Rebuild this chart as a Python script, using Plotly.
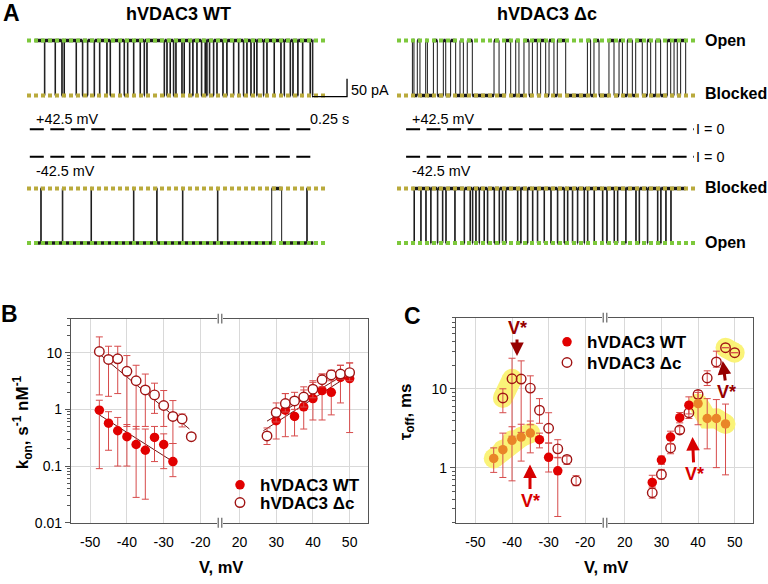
import math
import plotly.graph_objects as go

W, H = 768, 584
FONT = "Liberation Sans, Arial, sans-serif"

# ---------------- Panel A: single-channel traces (time s, current pA) ----------------
OPEN_POS, BLOCK_POS = 250, 95
OPEN_NEG, BLOCK_NEG = -243, -89
SCALE_PA, SCALE_S = 50, 0.25
BRIEF = 0.004
LEVEL_SPAN = [0.0, 2.15]

wt_pos_span = [0.057, 2.045]
wt_pos_onsets = [0.124, 0.200, 0.248, 0.264, 0.350, 0.395, 0.431, 0.479, 0.517, 0.569,
                 0.593, 0.660, 0.693, 0.717, 0.760, 0.807, 0.836, 0.855, 0.979, 0.998,
                 1.021, 1.045, 1.062, 1.105, 1.121, 1.160, 1.183, 1.212, 1.245, 1.271,
                 1.283, 1.302, 1.331, 1.355, 1.398, 1.426, 1.474, 1.510, 1.545, 1.569,
                 1.598, 1.621, 1.640, 1.688, 1.712, 1.764, 1.812, 1.836, 1.879, 1.898,
                 1.933, 1.967, 2.021, 2.038]
wt_neg_span = [0.064, 2.045]
wt_neg_onsets = [0.098, 0.252, 0.457, 0.760, 0.926, 1.110, 1.360, 1.998]
wt_neg_long_block = [(1.748, 1.819)]

dc_pos_span = [0.110, 2.062]
dc_pos_open = [(0.110, 0.121), (0.145, 0.164), (0.205, 0.217), (0.260, 0.288), (0.331, 0.348),
               (0.383, 0.419), (0.450, 0.474), (0.502, 0.538), (0.693, 0.729), (0.776, 0.812),
               (0.848, 0.871), (0.907, 0.943), (0.967, 1.002), (1.026, 1.062), (1.086, 1.121),
               (1.145, 1.205), (1.360, 1.383), (1.407, 1.443), (1.514, 1.550), (1.586, 1.610),
               (1.645, 1.681), (1.705, 1.752), (1.788, 1.812), (1.848, 1.883), (1.931, 1.955),
               (1.979, 2.002), (2.026, 2.062)]
dc_neg_span = [0.110, 2.062]
dc_neg_onsets = [0.121, 0.169, 0.205, 0.240, 0.288, 0.324, 0.348, 0.412, 0.479, 0.521,
                 0.538, 0.562, 0.586, 0.621, 0.645, 0.693, 0.729, 0.752, 0.776, 0.860,
                 0.883, 0.931, 0.967, 1.002, 1.050, 1.098, 1.145, 1.193, 1.217, 1.252,
                 1.288, 1.336, 1.360, 1.407, 1.467, 1.498, 1.550, 1.574, 1.633, 1.705,
                 1.729, 1.788, 1.860, 1.883, 1.919, 1.955]
wt_izero_span = [0.02, 2.05]
dc_izero_span = [0.065, 2.12]

# ---------------- Panel B: kon (s^-1 nM^-1) ----------------
B_WT_V_L = [-47.5, -45, -42.5, -40, -37.5, -35, -32.5, -30, -27.5]
B_WT_L = [0.97, 0.57, 0.42, 0.33, 0.24, 0.19, 0.32, 0.24, 0.12]
B_WT_L_HI = [1.45, 0.91, 0.72, 0.54, 0.5, 0.45, 0.5, 0.37, 0.25]
B_WT_L_LO = [0.09, 0.19, 0.1, 0.1, 0.028, 0.026, 0.12, 0.09, 0.065]
B_DC_V_L = [-47.5, -45, -42.5, -40, -37.5, -35, -32.5, -30, -27.5, -25, -22.5]
B_DC_L = [10.5, 7.6, 7.8, 4.7, 3.2, 2.2, 1.8, 1.17, 0.75, 0.68, 0.33]
B_DC_L_HI = [19, 13, 13, 8.9, 6.0, 4.2, 2.9, 2.15, 1.43, 0.83, 0.33]
B_DC_L_LO = [1.8, 1.7, 1.9, 0.5, 0.45, 0.5, 0.85, 0.5, 0.25, 0.49, 0.33]
B_WT_V_R = [30, 32.5, 35, 37.5, 40, 42.5, 45, 47.5, 50]
B_WT_R = [0.63, 0.97, 0.75, 1.11, 1.55, 2.15, 2.0, 3.66, 3.5]
B_WT_R_HI = [1.0, 1.9, 1.5, 2.2, 3.0, 4.2, 4.9, 6.0, 6.6]
B_WT_R_LO = [0.3, 0.33, 0.34, 0.45, 0.65, 0.65, 0.8, 1.3, 0.39]
B_DC_V_R = [27.5, 30, 32.5, 35, 37.5, 40, 42.5, 45, 47.5, 50]
B_DC_R = [0.34, 0.88, 1.27, 1.41, 1.65, 2.27, 3.33, 4.06, 4.2, 4.46]
B_DC_R_HI = [0.47, 1.3, 1.9, 2.0, 2.5, 3.2, 4.2, 4.9, 6.0, 6.6]
B_DC_R_LO = [0.24, 0.6, 0.9, 1.0, 1.1, 1.6, 2.5, 3.2, 3.4, 3.2]
B_FIT_DC_L = ([-47.5, -23], [9.5, 0.45])
B_FIT_WT_L = ([-47.5, -27.5], [0.8, 0.12])
B_FIT_DC_R = ([27.5, 50.5], [0.62, 4.9])
B_FIT_WT_R = ([26.5, 50], [0.42, 4.0])

# ---------------- Panel C: tau_off (ms) ----------------
C_WT_V_L = [-45, -42.5, -40, -37.5, -35, -32.5, -30, -27.5]
C_WT_L = [1.31, 1.69, 2.22, 2.44, 2.74, 2.26, 1.35, 0.91]
C_WT_L_HI = [1.78, 2.74, 3.3, 3.55, 3.9, 2.74, 2.05, 1.35]
C_WT_L_LO = [0.87, 0.75, 0.68, 1.21, 1.54, 1.78, 0.88, 0.24]
C_DC_V_L = [-42.5, -40, -37.5, -35, -32.5, -30, -27.5, -25, -22.5]
C_DC_L = [7.65, 13.4, 13.3, 10.2, 5.35, 3.16, 1.73, 1.27, 0.68]
C_DC_L_HI = [10.0, 24.4, 22.6, 14.6, 7.5, 4.97, 2.26, 1.4, 0.79]
C_DC_L_LO = [4.97, 2.5, 2.8, 3.5, 3.65, 2.05, 1.33, 1.1, 0.59]
C_WT_V_R = [27.5, 30, 32.5, 35, 37.5, 40, 42.5, 45, 47.5]
C_WT_R = [0.65, 1.25, 2.44, 4.3, 6.2, 6.5, 4.2, 4.2, 3.58]
C_WT_R_HI = [0.8, 1.4, 2.9, 5.0, 7.9, 9.0, 7.5, 7.3, 6.4]
C_WT_R_LO = [0.57, 1.1, 2.0, 3.7, 4.8, 3.5, 1.73, 1.0, 0.81]
C_DC_V_R = [27.5, 30, 32.5, 35, 37.5, 40, 42.5, 45, 47.5, 50]
C_DC_R = [0.48, 0.82, 1.78, 3.0, 4.97, 8.5, 13.7, 21.9, 33.2, 28.7]
C_DC_R_HI = [0.55, 0.95, 2.0, 3.3, 5.8, 9.5, 16.9, 30, 33.2, 28.7]
C_DC_R_LO = [0.41, 0.72, 1.5, 2.7, 4.2, 7.5, 11, 18.8, 33.2, 28.7]
# indices of highlighted (V*) groups
C_HL_WT_L = [0, 1, 2, 3, 4]
C_HL_WT_R = [5, 6, 7, 8]
C_HL_DC_L = [0, 1]
C_HL_DC_R = [8, 9]

X_TICKS_L = [-50, -40, -30, -20]
X_TICKS_R = [20, 30, 40, 50]

# ---------------- styles ----------------
RED = "rgb(225,0,0)"
DARKRED = "rgb(160,20,20)"
ORANGE = "rgb(233,133,40)"
ERRC = "rgb(215,75,75)"
FITC = "rgb(110,20,20)"
YELLOW = "rgb(250,243,120)"
GREEN = "rgb(125,200,60)"
OLIVE = "rgb(185,170,60)"
GRID = "#d9d9d9"
AXC = "#555555"


def px(x):
    return x / W


def py(y):
    return 1 - y / H


def dom_x(a, b):
    return [a / W, b / W]


def dom_y(top, bottom):
    return [1 - bottom / H, 1 - top / H]


fig = go.Figure()


def step_xy(span, intervals, base, other):
    xs, ys = [span[0]], [base]
    for s, e in intervals:
        xs += [s, s, e, e]
        ys += [base, other, other, base]
    xs.append(span[1])
    ys.append(base)
    return xs, ys


def dwell_xy(span, intervals, base, other):
    xs, ys = [], []
    prev = span[0]
    for s, e in intervals:
        xs += [prev, s, None, s, e, None]
        ys += [base, base, None, other, other, None]
        prev = e
    xs += [prev, span[1]]
    ys += [base, base]
    return xs, ys


def add_trace_panel(ax, span, intervals, base, other, open_lvl, block_lvl, izero_span):
    xa, ya = ("x" + ax, "y" + ax)
    xs, ys = step_xy(span, intervals, base, other)
    fig.add_trace(go.Scatter(x=xs, y=ys, mode="lines", xaxis=xa, yaxis=ya,
                             line=dict(color="rgb(25,25,25)", width=1), showlegend=False,
                             hoverinfo="skip"))
    dx, dy = dwell_xy(span, intervals, base, other)
    fig.add_trace(go.Scatter(x=dx, y=dy, mode="lines", xaxis=xa, yaxis=ya,
                             line=dict(color="rgb(25,25,25)", width=3.5), showlegend=False,
                             hoverinfo="skip", connectgaps=False))
    fig.add_trace(go.Scatter(x=LEVEL_SPAN, y=[open_lvl, open_lvl], mode="lines", xaxis=xa, yaxis=ya,
                             line=dict(color=GREEN, width=4, dash="4px,3px"), showlegend=False,
                             hoverinfo="skip"))
    fig.add_trace(go.Scatter(x=LEVEL_SPAN, y=[block_lvl, block_lvl], mode="lines", xaxis=xa, yaxis=ya,
                             line=dict(color=OLIVE, width=4, dash="4px,3px"), showlegend=False,
                             hoverinfo="skip"))
    fig.add_trace(go.Scatter(x=izero_span, y=[0, 0], mode="lines", xaxis=xa, yaxis=ya,
                             line=dict(color="black", width=2, dash="14px,6.5px"), showlegend=False,
                             hoverinfo="skip"))


wt_pos_int = [(t, t + BRIEF) for t in wt_pos_onsets]
wt_neg_int = sorted([(t, t + BRIEF) for t in wt_neg_onsets] + wt_neg_long_block)
dc_neg_int = [(t, t + BRIEF) for t in dc_neg_onsets]

add_trace_panel("", wt_pos_span, wt_pos_int, OPEN_POS, BLOCK_POS, OPEN_POS, BLOCK_POS, wt_izero_span)
add_trace_panel("2", wt_neg_span, wt_neg_int, OPEN_NEG, BLOCK_NEG, OPEN_NEG, BLOCK_NEG, wt_izero_span)
add_trace_panel("3", dc_pos_span, dc_pos_open, BLOCK_POS, OPEN_POS, OPEN_POS, BLOCK_POS, dc_izero_span)
add_trace_panel("4", dc_neg_span, dc_neg_int, BLOCK_NEG, OPEN_NEG, OPEN_NEG, BLOCK_NEG, dc_izero_span)

# scale bar (WT +42.5 panel)
SB_T, SB_I = 2.286, 92
fig.add_trace(go.Scatter(x=[SB_T - SCALE_S, SB_T, SB_T], y=[SB_I, SB_I, SB_I + SCALE_PA],
                         mode="lines", xaxis="x", yaxis="y", line=dict(color="black", width=1.3),
                         showlegend=False, hoverinfo="skip"))


# ---------------- scatter helpers ----------------
def sub(lst, idx):
    return [lst[i] for i in idx]


def err(vals, hi, lo):
    return dict(type="data", symmetric=False,
                array=[h - v for v, h in zip(vals, hi)],
                arrayminus=[v - l for v, l in zip(vals, lo)],
                color=ERRC, thickness=1, width=3.5)


def add_pts(xa, ya, V, vals, hi, lo, filled, fillcolor=None, color=None):
    if filled:
        marker = dict(symbol="circle", size=9.5, color=color or RED, line=dict(width=0))
    else:
        marker = dict(symbol="circle", size=9.5, color=fillcolor or "rgba(255,255,255,0)",
                      line=dict(color=DARKRED, width=1.4))
    fig.add_trace(go.Scatter(x=V, y=vals, mode="markers", xaxis=xa, yaxis=ya,
                             error_y=err(vals, hi, lo), marker=marker,
                             showlegend=False, hoverinfo="skip"))


def add_fit(xa, ya, fit):
    fig.add_trace(go.Scatter(x=fit[0], y=fit[1], mode="lines", xaxis=xa, yaxis=ya,
                             line=dict(color=FITC, width=1), showlegend=False, hoverinfo="skip"))


def add_legend_entry(xa, ya, name, legend, filled):
    if filled:
        marker = dict(size=9.5, color=RED)
    else:
        marker = dict(size=9.5, color="white", line=dict(color=DARKRED, width=1.4))
    fig.add_trace(go.Scatter(x=[None], y=[None], mode="markers", xaxis=xa, yaxis=ya,
                             marker=marker, name=name, legend=legend, showlegend=True))


# Panel B
add_fit("x5", "y5", B_FIT_DC_L)
add_fit("x5", "y5", B_FIT_WT_L)
add_fit("x6", "y6", B_FIT_DC_R)
add_fit("x6", "y6", B_FIT_WT_R)
add_pts("x5", "y5", B_DC_V_L, B_DC_L, B_DC_L_HI, B_DC_L_LO, False, fillcolor="white")
add_pts("x5", "y5", B_WT_V_L, B_WT_L, B_WT_L_HI, B_WT_L_LO, True)
add_pts("x6", "y6", B_WT_V_R, B_WT_R, B_WT_R_HI, B_WT_R_LO, True)
add_pts("x6", "y6", B_DC_V_R, B_DC_R, B_DC_R_HI, B_DC_R_LO, False, fillcolor="white")
add_legend_entry("x6", "y6", "hVDAC3 WT", "legend", True)
add_legend_entry("x6", "y6", "hVDAC3 \u0394c", "legend3", False)


# Panel C highlights
def add_hl(xa, ya, V, vals, idx):
    fig.add_trace(go.Scatter(x=sub(V, idx), y=sub(vals, idx), mode="lines+markers", xaxis=xa, yaxis=ya,
                             line=dict(color=YELLOW, width=20), marker=dict(color=YELLOW, size=20),
                             showlegend=False, hoverinfo="skip"))


add_hl("x7", "y7", C_DC_V_L, C_DC_L, C_HL_DC_L)
add_hl("x7", "y7", C_WT_V_L, C_WT_L, C_HL_WT_L)
add_hl("x8", "y8", C_WT_V_R, C_WT_R, C_HL_WT_R)
add_hl("x8", "y8", C_DC_V_R, C_DC_R, C_HL_DC_R)

wt_l_colors = [ORANGE if i in C_HL_WT_L else RED for i in range(len(C_WT_L))]
wt_r_colors = [ORANGE if i in C_HL_WT_R else RED for i in range(len(C_WT_R))]
add_pts("x7", "y7", C_DC_V_L, C_DC_L, C_DC_L_HI, C_DC_L_LO, False)
add_pts("x7", "y7", C_WT_V_L, C_WT_L, C_WT_L_HI, C_WT_L_LO, True, color=wt_l_colors)
add_pts("x8", "y8", C_DC_V_R, C_DC_R, C_DC_R_HI, C_DC_R_LO, False)
add_pts("x8", "y8", C_WT_V_R, C_WT_R, C_WT_R_HI, C_WT_R_LO, True, color=wt_r_colors)
add_legend_entry("x8", "y8", "hVDAC3 WT", "legend2", True)
add_legend_entry("x8", "y8", "hVDAC3 \u0394c", "legend4", False)

# ---------------- axes ----------------
hidden = dict(visible=False, showgrid=False, zeroline=False, fixedrange=True)
A_PX_PER_S = 140.0
A_PX_PER_PA = 0.36
layout_axes = {}
layout_axes["xaxis"] = dict(hidden, domain=dom_x(27, 360), range=[0, 333 / A_PX_PER_S], anchor="y")
layout_axes["yaxis"] = dict(hidden, domain=dom_y(20, 140),
                            range=[(131 - 140) / A_PX_PER_PA, (131 - 20) / A_PX_PER_PA], anchor="x")
layout_axes["xaxis2"] = dict(hidden, domain=dom_x(27, 360), range=[0, 333 / A_PX_PER_S], anchor="y2")
layout_axes["yaxis2"] = dict(hidden, domain=dom_y(150, 260),
                             range=[(159 - 260) / A_PX_PER_PA, (159 - 150) / A_PX_PER_PA], anchor="x2")
layout_axes["xaxis3"] = dict(hidden, domain=dom_x(397, 700), range=[0, 303 / A_PX_PER_S], anchor="y3")
layout_axes["yaxis3"] = dict(hidden, domain=dom_y(20, 140),
                             range=[(131 - 140) / A_PX_PER_PA, (131 - 20) / A_PX_PER_PA], anchor="x3")
layout_axes["xaxis4"] = dict(hidden, domain=dom_x(397, 700), range=[0, 303 / A_PX_PER_S], anchor="y4")
layout_axes["yaxis4"] = dict(hidden, domain=dom_y(150, 260),
                             range=[(159 - 260) / A_PX_PER_PA, (159 - 150) / A_PX_PER_PA], anchor="x4")

tickfont = dict(family=FONT, size=14, color="black")


def xax(domain, rng, ticks, anchor):
    return dict(domain=domain, range=rng, anchor=anchor, tickmode="array", tickvals=ticks,
                ticktext=["%d" % t for t in ticks], showline=True, mirror=True,
                linecolor=AXC, linewidth=1.2, showgrid=True, gridcolor=GRID, gridwidth=1,
                zeroline=False, ticks="outside", ticklen=6, tickcolor="rgba(0,0,0,0)",
                tickfont=tickfont, fixedrange=True)


def yax(domain, rng, anchor, left=True):
    d = dict(domain=domain, range=rng, anchor=anchor, type="log", dtick=1, showgrid=True,
             gridcolor=GRID, gridwidth=1, zeroline=False, showline=True, linecolor=AXC, linewidth=1.2,
             fixedrange=True, tickfont=tickfont)
    if left:
        d.update(ticks="outside", ticklen=5, tickcolor=AXC, side="left",
                 minor=dict(ticks="outside", ticklen=3, tickcolor=AXC, dtick="D1", showgrid=False))
    else:
        d.update(ticks="", side="right", showticklabels=False)
    return d


B_YR = [math.log10(0.01), math.log10(40)]
C_YR = [math.log10(0.2), math.log10(80)]
layout_axes["xaxis5"] = xax(dom_x(71, 220), [-55.2, -14.7], X_TICKS_L, "y5")
layout_axes["yaxis5"] = yax(dom_y(323, 530), B_YR, "x5", True)
layout_axes["xaxis6"] = xax(dom_x(220, 368), [14.7, 55.0], X_TICKS_R, "y6")
layout_axes["yaxis6"] = yax(dom_y(323, 530), B_YR, "x6", False)
layout_axes["xaxis7"] = xax(dom_x(456, 605), [-55.3, -14.6], X_TICKS_L, "y7")
layout_axes["yaxis7"] = yax(dom_y(322, 530), C_YR, "x7", True)
layout_axes["xaxis8"] = xax(dom_x(605, 753), [14.6, 55.0], X_TICKS_R, "y8")
layout_axes["yaxis8"] = yax(dom_y(322, 530), C_YR, "x8", False)

# ---------------- annotations ----------------
ann = []


def txt(x, y, s, size=14, bold=False, xanchor="center", color="black", angle=0):
    ann.append(dict(x=px(x), y=py(y), xref="paper", yref="paper", text=("<b>%s</b>" % s) if bold else s,
                    showarrow=False, xanchor=xanchor, yanchor="middle", textangle=angle,
                    font=dict(family=FONT, size=size, color=color)))


txt(11, 13, "A", 23, True)
txt(9, 318, "B", 23, True)
txt(412, 320, "C", 23, True)
txt(178, 14, "hVDAC3 WT", 18, True)
txt(547, 14, "hVDAC3 \u0394c", 18, True)
txt(703, 41, "Open", 16, True, "left")
txt(703, 95, "Blocked", 16, True, "left")
txt(703, 190, "Blocked", 16, True, "left")
txt(703, 246, "Open", 16, True, "left")
txt(34, 121, "+42.5 mV", 14.4, False, "left")
txt(34, 173, "-42.5 mV", 14.4, False, "left")
txt(410, 121, "+42.5 mV", 14.4, False, "left")
txt(410, 173, "-42.5 mV", 14.4, False, "left")
txt(694, 131, "I = 0", 14.4, False, "left")
txt(694, 159, "I = 0", 14.4, False, "left")
txt(349, 91, "%d pA" % SCALE_PA, 14.4, False, "left")
txt(329, 121, "%g s" % SCALE_S, 14.4, False, "center")
txt(221, 575, "V, mV", 16.5, True)
txt(606, 575, "V, mV", 16.5, True)
txt(22, 428, "k<sub>on</sub>, s<sup>-1</sup> nM<sup>-1</sup>", 17, True, angle=-90)
txt(407, 418, "\u03c4<sub>off</sub>, ms", 17, True, angle=-90)


def arrow(xt, yt, xs, ys, color):
    ann.append(dict(x=px(xt), y=py(yt), xref="paper", yref="paper", ax=xs - xt, ay=ys - yt,
                    text="<b>V*</b>", showarrow=True, arrowhead=2, arrowsize=0.9, arrowwidth=3,
                    arrowcolor=color, font=dict(family=FONT, size=18, color=color)))


arrow(517, 361, 517, 333, "rgb(150,0,0)")
arrow(530, 471, 530, 507, "rgb(215,0,0)")
arrow(692.5, 443, 694, 480, "rgb(215,0,0)")
arrow(722.7, 366, 726.7, 397, "rgb(150,0,0)")

# ---------------- break marks ----------------
shapes = []
for bx, yt, yb in [(220, 323, 530), (605, 322, 530)]:
    for yy in (yt, yb):
        shapes.append(dict(type="rect", xref="paper", yref="paper", x0=px(bx - 3), x1=px(bx + 3),
                           y0=py(yy + 5), y1=py(yy - 5), fillcolor="white", line=dict(width=0)))
        for off in (-1.8, 1.8):
            shapes.append(dict(type="line", xref="paper", yref="paper", x0=px(bx + off), x1=px(bx + off),
                               y0=py(yy + 5), y1=py(yy - 5), line=dict(color=AXC, width=1.1)))


def leg(x, y):
    return dict(x=px(x), y=py(y), xanchor="left", yanchor="middle", bgcolor="rgba(0,0,0,0)",
                font=dict(family=FONT, size=17, color="black", weight="bold"), itemclick=False,
                itemdoubleclick=False)


fig.update_layout(
    width=W, height=H, autosize=False, margin=dict(l=0, r=0, t=0, b=0),
    paper_bgcolor="white", plot_bgcolor="rgba(0,0,0,0)",
    font=dict(family=FONT, color="black"),
    annotations=ann, shapes=shapes,
    legend=leg(220, 492), legend3=leg(220, 510),
    legend2=leg(547, 347), legend4=leg(547, 368),
    **layout_axes,
)

fig.write_html("out.html", config={"displayModeBar": False},
               post_script="document.body.style.margin='0';document.body.style.overflow='hidden';")
